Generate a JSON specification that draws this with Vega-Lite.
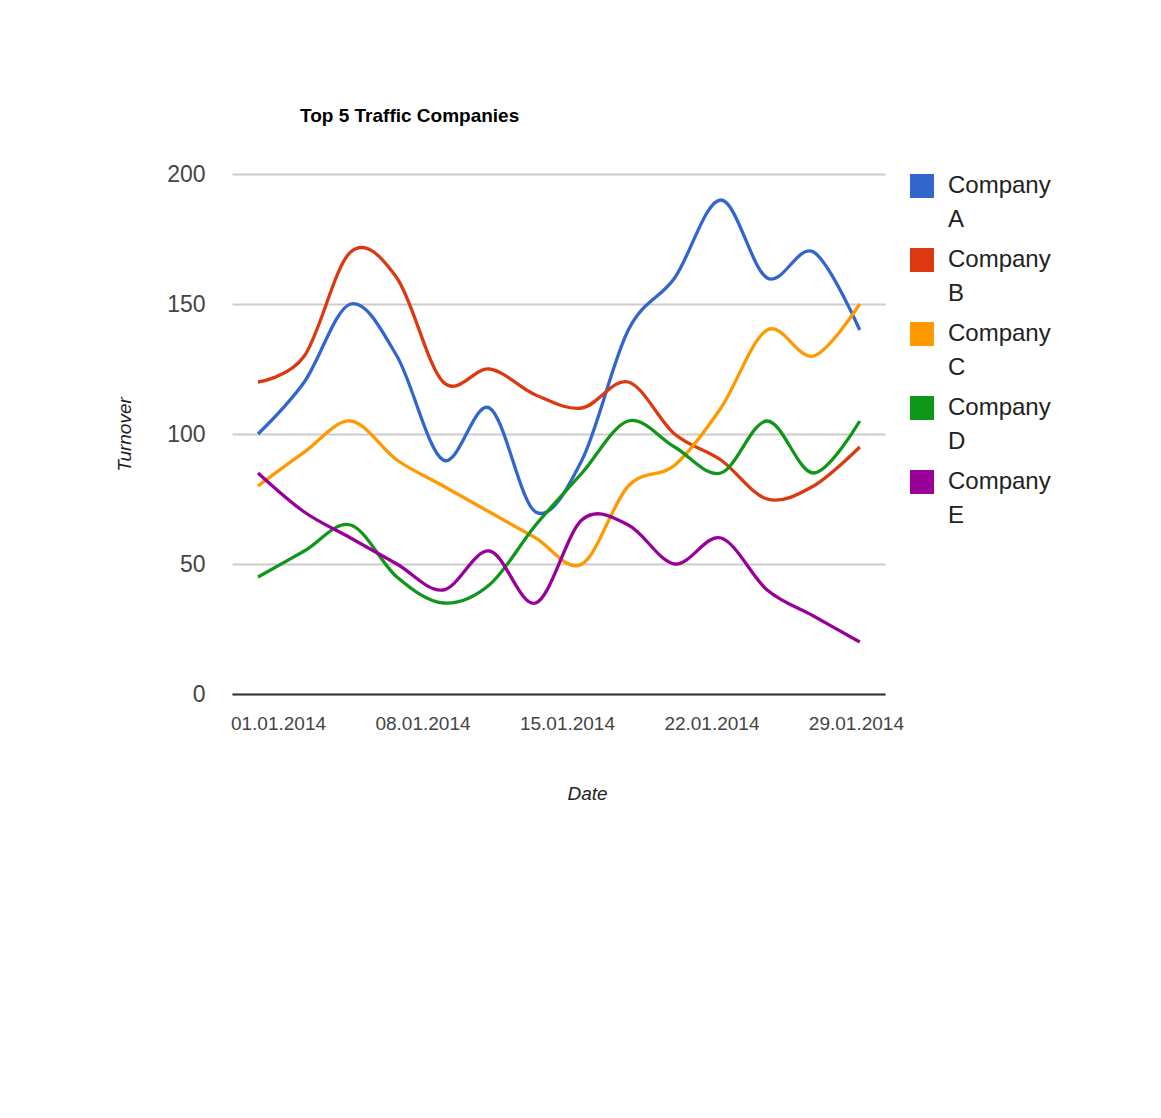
{
  "$schema": "https://vega.github.io/schema/vega-lite/v6.json",
  "autosize": "none",
  "width": 653,
  "height": 520,
  "padding": {"left": 232, "top": 174, "right": 276, "bottom": 424},
  "background": "white",
  "title": {
    "text": "Top 5 Traffic Companies",
    "anchor": "start",
    "frame": "group",
    "dx": 68,
    "offset": 37,
    "font": "Liberation Sans",
    "fontSize": 19,
    "fontWeight": "bold",
    "color": "#000000"
  },
  "data": {
    "values": [
      {"date": "2013-12-31T00:45", "Company A": 100, "Company B": 120, "Company C": 80, "Company D": 45, "Company E": 85},
      {"date": "2014-01-02T06:35", "Company A": 120, "Company B": 130, "Company C": 93, "Company D": 55, "Company E": 70},
      {"date": "2014-01-04T12:25", "Company A": 150, "Company B": 170, "Company C": 105, "Company D": 65, "Company E": 60},
      {"date": "2014-01-06T18:15", "Company A": 130, "Company B": 160, "Company C": 90, "Company D": 45, "Company E": 50},
      {"date": "2014-01-09T00:05", "Company A": 90, "Company B": 120, "Company C": 80, "Company D": 35, "Company E": 40},
      {"date": "2014-01-11T05:55", "Company A": 110, "Company B": 125, "Company C": 70, "Company D": 42, "Company E": 55},
      {"date": "2014-01-13T11:40", "Company A": 70, "Company B": 115, "Company C": 60, "Company D": 65, "Company E": 35},
      {"date": "2014-01-15T17:30", "Company A": 90, "Company B": 110, "Company C": 50, "Company D": 85, "Company E": 67},
      {"date": "2014-01-17T23:20", "Company A": 140, "Company B": 120, "Company C": 80, "Company D": 105, "Company E": 65},
      {"date": "2014-01-20T05:10", "Company A": 160, "Company B": 100, "Company C": 88, "Company D": 95, "Company E": 50},
      {"date": "2014-01-22T11:00", "Company A": 190, "Company B": 90, "Company C": 110, "Company D": 85, "Company E": 60},
      {"date": "2014-01-24T16:50", "Company A": 160, "Company B": 75, "Company C": 140, "Company D": 105, "Company E": 40},
      {"date": "2014-01-26T22:40", "Company A": 170, "Company B": 80, "Company C": 130, "Company D": 85, "Company E": 30},
      {"date": "2014-01-29T04:30", "Company A": 140, "Company B": 95, "Company C": 150, "Company D": 105, "Company E": 20}
    ]
  },
  "transform": [
    {"fold": ["Company A", "Company B", "Company C", "Company D", "Company E"], "as": ["company", "turnover"]}
  ],
  "mark": {"type": "line", "interpolate": "cardinal", "strokeWidth": 3.3},
  "encoding": {
    "x": {
      "field": "date",
      "type": "temporal",
      "scale": {
        "domain": [
          {"year": 2013, "month": 12, "date": 29, "hours": 18, "minutes": 30},
          {"year": 2014, "month": 1, "date": 30, "hours": 9, "minutes": 50}
        ]
      },
      "axis": {
        "values": [
          {"year": 2014, "month": 1, "date": 1},
          {"year": 2014, "month": 1, "date": 8},
          {"year": 2014, "month": 1, "date": 15},
          {"year": 2014, "month": 1, "date": 22},
          {"year": 2014, "month": 1, "date": 29}
        ],
        "format": "%d.%m.%Y",
        "labelFont": "Liberation Sans",
        "labelFontSize": 19,
        "labelColor": "#444444",
        "labelPadding": 20,
        "labelFlush": false,
        "labelOverlap": false,
        "ticks": false,
        "grid": false,
        "domain": true,
        "domainColor": "#333333",
        "domainWidth": 2,
        "title": "Date",
        "titleFont": "Liberation Sans",
        "titleFontSize": 19,
        "titleFontStyle": "italic",
        "titleFontWeight": "normal",
        "titleColor": "#222222",
        "titlePadding": 51,
        "titleX": 355
      }
    },
    "y": {
      "field": "turnover",
      "type": "quantitative",
      "scale": {"domain": [0, 200]},
      "axis": {
        "values": [0, 50, 100, 150, 200],
        "labelFont": "Liberation Sans",
        "labelFontSize": 23,
        "labelColor": "#444444",
        "labelPadding": 27,
        "ticks": false,
        "domain": false,
        "grid": true,
        "gridColor": "#cccccc",
        "gridWidth": 2,
        "title": "Turnover",
        "titleFont": "Liberation Sans",
        "titleFontSize": 19,
        "titleFontStyle": "italic",
        "titleFontWeight": "normal",
        "titleColor": "#222222",
        "titlePadding": 32
      }
    },
    "color": {
      "field": "company",
      "type": "nominal",
      "scale": {
        "domain": ["Company A", "Company B", "Company C", "Company D", "Company E"],
        "range": ["#3366cc", "#dc3912", "#ff9900", "#109618", "#990099"]
      },
      "legend": {
        "orient": "right",
        "offset": 25,
        "title": null,
        "symbolType": "square",
        "symbolSize": 576,
        "symbolStrokeWidth": 0,
        "symbolOpacity": 1,
        "labelFont": "Liberation Sans",
        "labelFontSize": 24,
        "labelColor": "#222222",
        "labelOffset": 14,
        "labelLimit": 300,
        "labelExpr": "split(datum.label, ' ')",
        "rowPadding": 16,
        "encode": {
          "symbols": {"update": {"fill": {"scale": "color", "field": "value"}}},
          "labels": {"update": {"lineHeight": {"value": 34}}}
        }
      }
    }
  },
  "config": {"view": {"stroke": null}}
}
